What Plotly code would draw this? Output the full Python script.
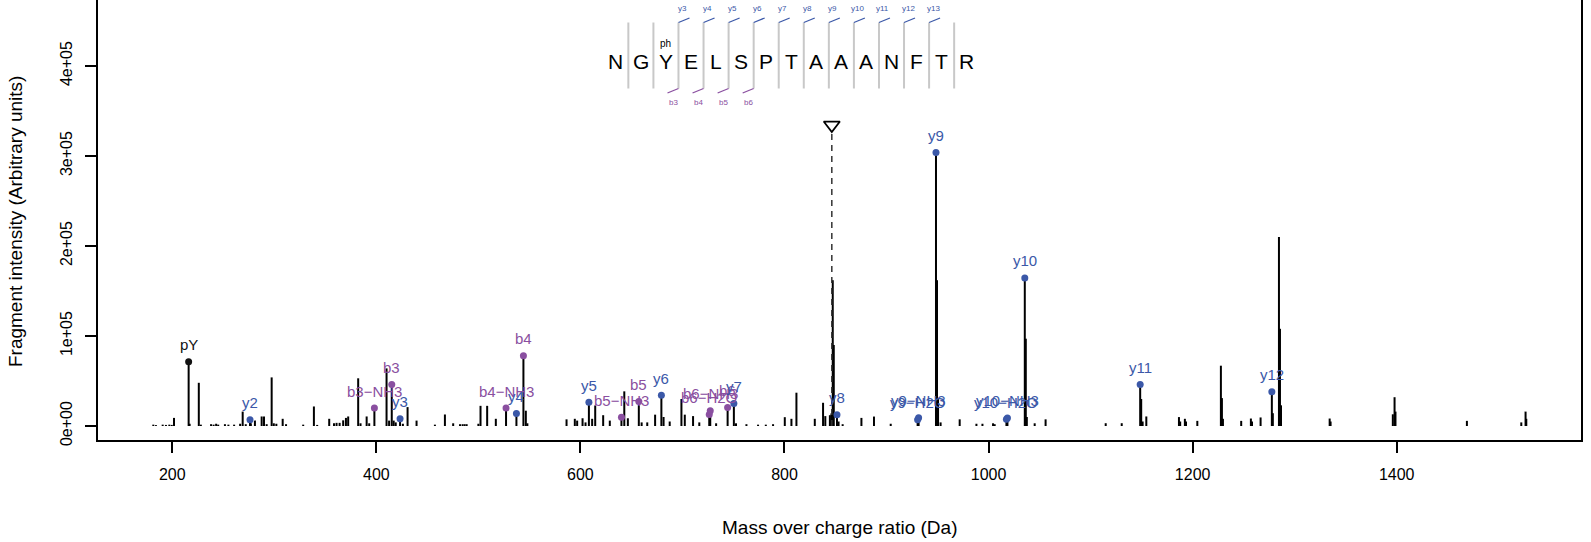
import plotly.graph_objects as go

# ---------------- data ----------------
peak_mz = [181.4, 184.0, 190.6, 193.8, 197.1, 199.5, 201.7, 216.04, 217.0, 226.0, 228.0,
           238.0, 240.5, 243.0, 245.0, 251.6, 255.0, 260.6, 266.5, 269.0, 272.0, 276.17,
           277.0, 281.0, 287.6, 289.9, 292.5, 297.4, 299.5, 302.0, 308.2, 311.5, 328.3,
           338.8, 342.0, 353.8, 358.5, 361.0, 364.0, 367.5, 370.2, 372.4, 382.2, 384.5,
           390.5, 393.0, 398.08, 410.0, 412.5, 415.11, 417.0, 419.0, 423.24, 426.0, 430.6,
           439.4, 457.4,
           467.2, 475.3, 482.0, 484.5, 486.5, 488.5, 500.0, 502.1, 508.6, 517.1, 527.11,
           537.28, 544.14, 546.5, 548.0, 586.4, 594.5, 596.8, 602.1, 605.0, 608.31, 611.5,
           614.5, 622.3, 628.8, 640.21, 643.0, 646.5, 657.24, 660.0, 665.5, 673.2, 679.35,
           681.5, 687.5, 699.0, 702.3, 710.4, 716.5, 726.26, 727.24, 733.0, 744.27, 750.39,
           752.5, 762.7, 774.1,
           781.7, 788.8, 800.3, 806.8, 811.7, 829.7, 837.8, 840.0, 844.5, 846.0, 847.3,
           848.3, 851.43, 853.0, 857.0, 875.4, 887.7, 904.1, 930.47, 931.46, 948.48, 949.5,
           950.5, 953.0, 971.7, 988.1, 994.0, 1004.4, 1006.0, 1017.50, 1018.49, 1035.51,
           1036.5, 1037.5, 1045.2, 1055.9,
           1114.8, 1130.5, 1148.6, 1149.6, 1151.0, 1154.6, 1186.6, 1187.8, 1192.4, 1193.5,
           1204.6, 1227.7, 1228.7, 1229.7, 1247.6, 1257.1, 1258.2, 1266.6, 1277.64, 1278.6,
           1284.6, 1285.6, 1286.6, 1334.3, 1335.2, 1396.2, 1397.9, 1398.8, 1468.8, 1522.1,
           1526.3, 1527.0]
peak_int = [1500, 1000, 1500, 1200, 1500, 1200, 9000, 71500, 2500, 48000, 1500,
            2000, 1500, 2500, 1500, 2000, 1500, 1500, 2500, 16000, 2000, 7000,
            3000, 6000, 10600, 10600, 2000, 54000, 3000, 2500, 8000, 2000, 1500,
            21700, 1200, 8000, 3000, 3500, 3500, 6300, 9000, 10600, 53000, 3000,
            10600, 3000, 20000, 64000, 6000, 46000, 6000, 4000, 8000, 2500, 21000,
            6000, 1500,
            12800, 3000, 2000, 2000, 2000, 2000, 2500, 22400, 22400, 8000, 20000,
            14000, 78000, 17000, 3000, 7400, 8000, 6000, 8600, 4000, 26500, 8000,
            22800, 12000, 6000, 9800, 38500, 8600, 27200, 4000, 4000, 12600, 34300,
            10000, 5000, 30000, 12600, 11000, 4000, 12800, 17000, 3000, 20600, 25000,
            3000, 2000, 1500,
            1500, 2000, 9800, 8000, 37000, 8000, 25800, 11000, 12000, 14000, 162000,
            90000, 12400, 5000, 2000, 9000, 10500, 2500, 6900, 9100, 304000, 162000,
            31000, 4000, 7400, 2500, 2500, 3000, 2000, 7400, 8900, 164500,
            97000, 10000, 3000, 7400,
            3100, 3100, 46000, 30000, 5000, 10600, 9900, 5000, 8000, 5000,
            5700, 67000, 31000, 8000, 5700, 8300, 5000, 9500, 38000, 14200,
            210000, 108000, 23000, 8300, 5000, 13000, 32000, 16000, 5700, 4000,
            16000, 8000]

ann_mz = [216.04, 276.17, 398.08, 415.11, 423.24, 527.11, 537.28, 544.14, 608.31,
          640.21, 657.24, 679.35, 726.26, 727.24, 744.27, 750.39, 851.43, 930.47,
          931.46, 948.48, 1017.50, 1018.49, 1035.51, 1148.6, 1277.64]
ann_int = [71500, 7000, 20000, 46000, 8000, 20000, 14000, 78000, 26500,
           9800, 27200, 34300, 12800, 17000, 20600, 25000, 12400, 6900,
           9100, 304000, 7400, 8900, 164500, 46000, 38000]
ann_label = ["pY", "y2", "b3-NH3", "b3", "y3", "b4-NH3", "y4", "b4", "y5",
             "b5-NH3", "b5", "y6", "b6-H2O", "b6-NH3", "b6", "y7", "y8", "y9-H2O",
             "y9-NH3", "y9", "y10-H2O", "y10-NH3", "y10", "y11", "y12"]
ann_kind = ["other", "y", "b", "b", "y", "b", "y", "b", "y",
            "b", "b", "y", "b", "b", "b", "y", "y", "y",
            "y", "y", "y", "y", "y", "y", "y"]

precursor_mz = 846.38
sequence = ["N", "G", "Y", "E", "L", "S", "P", "T", "A", "A", "A", "N", "F", "T", "R"]
modified_residue = 2
mod_label = "ph"
y_ion_labels = ["y3", "y4", "y5", "y6", "y7", "y8", "y9", "y10", "y11", "y12", "y13"]
b_ion_labels = ["b3", "b4", "b5", "b6"]

x_ticks = [200, 400, 600, 800, 1000, 1200, 1400]
y_ticks = [0, 100000, 200000, 300000, 400000]
y_tick_text = ["0e+00", "1e+05", "2e+05", "3e+05", "4e+05"]

# ---------------- style / layout ----------------
W, H = 1591, 542
# plot box in window pixels
L_PX, R_PX, T_PX, B_PX = 98, 1581.5, 0, 440
ZERO_PX = 426.0            # window y of intensity 0
Y_PER_PX = 100000 / 90.0   # intensity per pixel
X0_PX, X_PER_DA = 172.3, 1.0207  # window x of m/z 200, pixels per Da

BLUE = "#3B58A8"
PURPLE = "#8A4FA0"
GREY_SEP = "#C8C8C8"
FONT = "Liberation Sans, Arial, Helvetica, sans-serif"
colors = {"y": BLUE, "b": PURPLE, "other": "#111111"}


def px(x):
    return (x - L_PX) / (R_PX - L_PX)


def py(y):
    return (B_PX - y) / (B_PX - T_PX)


fig = go.Figure()

# spectrum peaks (sticks)
xs, ys = [], []
for m, i in zip(peak_mz, peak_int):
    xs += [m, m, None]
    ys += [0, i, None]
fig.add_trace(go.Scatter(x=xs, y=ys, mode="lines",
                         line=dict(color="black", width=2), hoverinfo="skip",
                         showlegend=False))

# precursor marker
tri_y = 1.1 * max(peak_int)
fig.add_trace(go.Scatter(x=[precursor_mz, precursor_mz], y=[0, tri_y - 9000], mode="lines",
                         line=dict(color="#333333", width=1.5, dash="6px,5px"),
                         showlegend=False, hoverinfo="skip"))
fig.add_trace(go.Scatter(x=[precursor_mz], y=[tri_y], mode="markers",
                         marker=dict(symbol="triangle-down-open", size=14,
                                     color="black", line=dict(width=1.8, color="black")),
                         showlegend=False, hoverinfo="skip"))

# annotated peaks
for kind in ["other", "b", "y"]:
    mx = [m for m, k in zip(ann_mz, ann_kind) if k == kind]
    my = [v for v, k in zip(ann_int, ann_kind) if k == kind]
    fig.add_trace(go.Scatter(x=mx, y=my, mode="markers",
                             marker=dict(size=7, color=colors[kind]),
                             showlegend=False, hoverinfo="skip"))

annotations = []
for m, v, lab, k in zip(ann_mz, ann_int, ann_label, ann_kind):
    annotations.append(dict(x=m, y=v, xref="x", yref="y", text=lab.replace("-", "\u2212"),
                            showarrow=False, yshift=17,
                            font=dict(family=FONT, size=15, color=colors[k])))

# peptide sequence diagram (window pixel positions)
SEQ_X0, SEQ_DX, SEQ_Y = 616.0, 25.07, 62
SEP_TOP, SEP_BOT = 22.5, 88.5
shapes = []
for idx, aa in enumerate(sequence):
    cx = SEQ_X0 + idx * SEQ_DX
    annotations.append(dict(x=px(cx), y=py(SEQ_Y), xref="paper", yref="paper", text=aa,
                            showarrow=False, font=dict(family=FONT, size=21, color="black"),
                            xanchor="center", yanchor="middle"))
    if idx == modified_residue:
        annotations.append(dict(x=px(cx), y=py(43.5), xref="paper", yref="paper",
                                text=mod_label, showarrow=False,
                                font=dict(family=FONT, size=10, color="black"),
                                xanchor="center", yanchor="middle"))
    if idx < len(sequence) - 1:
        sx = cx + SEQ_DX / 2
        shapes.append(dict(type="line", xref="paper", yref="paper",
                           x0=px(sx), x1=px(sx), y0=py(SEP_TOP), y1=py(SEP_BOT),
                           line=dict(color=GREY_SEP, width=2)))

for j, lab in enumerate(y_ion_labels):
    sx = SEQ_X0 + (j + 2) * SEQ_DX + SEQ_DX / 2
    shapes.append(dict(type="line", xref="paper", yref="paper",
                       x0=px(sx), x1=px(sx + 11), y0=py(SEP_TOP), y1=py(SEP_TOP - 4.5),
                       line=dict(color=BLUE, width=1.3)))
    annotations.append(dict(x=px(sx + 4), y=py(8.5), xref="paper", yref="paper", text=lab,
                            showarrow=False, font=dict(family=FONT, size=8, color=BLUE),
                            xanchor="center", yanchor="middle"))

for j, lab in enumerate(b_ion_labels):
    sx = SEQ_X0 + (j + 2) * SEQ_DX + SEQ_DX / 2
    shapes.append(dict(type="line", xref="paper", yref="paper",
                       x0=px(sx), x1=px(sx - 11), y0=py(SEP_BOT), y1=py(SEP_BOT + 4.5),
                       line=dict(color=PURPLE, width=1.3)))
    annotations.append(dict(x=px(sx - 5), y=py(102), xref="paper", yref="paper", text=lab,
                            showarrow=False, font=dict(family=FONT, size=8, color=PURPLE),
                            xanchor="center", yanchor="middle"))

# axis titles
annotations.append(dict(x=0.5, y=py(527.5), xref="paper", yref="paper",
                        text="Mass over charge ratio (Da)", showarrow=False,
                        font=dict(family=FONT, size=19, color="black"),
                        xanchor="center", yanchor="middle"))
annotations.append(dict(x=px(15), y=py(222), xref="paper", yref="paper",
                        text="Fragment intensity (Arbitrary units)", showarrow=False,
                        textangle=-90, font=dict(family=FONT, size=19, color="black"),
                        xanchor="center", yanchor="middle"))

x_lo = 200 - (X0_PX - L_PX) / X_PER_DA
x_hi = 200 + (R_PX - X0_PX) / X_PER_DA
y_lo = -(B_PX - ZERO_PX) * Y_PER_PX
y_hi = (ZERO_PX - T_PX) * Y_PER_PX

fig.update_layout(
    width=W, height=H,
    margin=dict(l=L_PX, r=W - R_PX, t=T_PX, b=H - B_PX, pad=0),
    paper_bgcolor="white", plot_bgcolor="white",
    showlegend=False,
    font=dict(family=FONT, size=16, color="black"),
    xaxis=dict(range=[x_lo, x_hi], tickvals=x_ticks, ticktext=[str(t) for t in x_ticks],
               showgrid=False, zeroline=False, showline=True, linecolor="black",
               linewidth=1.5, ticks="outside", ticklen=11, tickwidth=1.5,
               tickcolor="black", tickfont=dict(family=FONT, size=16),
               ticklabelstandoff=8, mirror=False),
    yaxis=dict(range=[y_lo, y_hi], tickvals=y_ticks, ticktext=y_tick_text,
               showgrid=False, zeroline=False, showline=True, linecolor="black",
               linewidth=1.5, ticks="outside", ticklen=11, tickwidth=1.5,
               tickcolor="black", tickangle=-90, tickfont=dict(family=FONT, size=16),
               ticklabelstandoff=7, mirror=True),
    annotations=annotations,
    shapes=shapes,
)

# remove the default 8px page margin so the figure fills the window exactly
fig.write_html("out.html",
               config={"displayModeBar": False},
               post_script="document.body.style.margin='0px';"
                           "document.body.style.overflow='hidden';")
